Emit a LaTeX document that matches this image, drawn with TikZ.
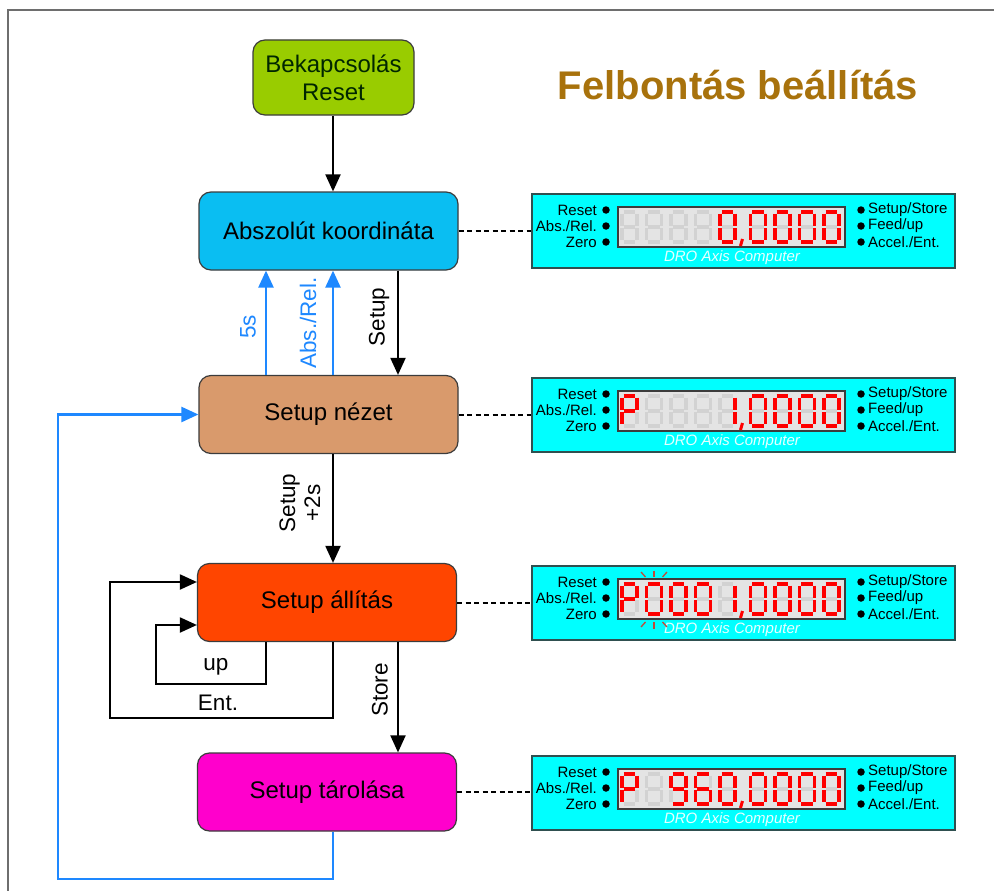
\documentclass[tikz,border=0pt]{standalone}
\usepackage{fontspec}
\setmainfont{Liberation Sans}
\usetikzlibrary{arrows.meta,calc}
\definecolor{cgreen}{HTML}{99CC00}
\definecolor{cblue}{HTML}{0ABEF2}
\definecolor{ctan}{HTML}{D99A6C}
\definecolor{cred}{HTML}{FF4500}
\definecolor{cmag}{HTML}{FF00CC}
\definecolor{cline}{HTML}{1E88FF}
\definecolor{ctitle}{HTML}{A8720C}
\definecolor{ccyan}{HTML}{00FFFF}
\definecolor{cpanel}{HTML}{E4E4E4}
\definecolor{csegoff}{HTML}{D2D2D2}
\definecolor{cframe}{HTML}{6E6E6E}
\definecolor{cborder}{HTML}{3C3C3C}
\definecolor{cdispb}{HTML}{2F5050}
\definecolor{cdro}{HTML}{E6FFFF}
\definecolor{cblink}{HTML}{C04A3A}
\expandafter\def\csname dsegs0\endcsname{a,b,c,d,e,f}
\expandafter\def\csname dsegs1\endcsname{b,c}
\expandafter\def\csname dsegs6\endcsname{a,c,d,e,f,g}
\expandafter\def\csname dsegs9\endcsname{a,b,c,d,f,g}
\expandafter\def\csname dsegsP\endcsname{a,b,e,f,g}
\newcommand\celldef{%
 \coordinate (sga1) at (3.6,2); \coordinate (sga2) at (15.4,2);
 \coordinate (sgb1) at (17,3.6); \coordinate (sgb2) at (17,15.6);
 \coordinate (sgc1) at (17,18.4); \coordinate (sgc2) at (17,30.4);
 \coordinate (sgd1) at (3.6,32); \coordinate (sgd2) at (15.4,32);
 \coordinate (sge1) at (2,18.4); \coordinate (sge2) at (2,30.4);
 \coordinate (sgf1) at (2,3.6); \coordinate (sgf2) at (2,15.6);
 \coordinate (sgg1) at (3.6,17); \coordinate (sgg2) at (15.4,17);
 \foreach \s in {a,b,c,d,e,f,g} {\draw[segoff] (sg\s1) -- (sg\s2);}}
\newcommand\gdig[2]{\begin{scope}[shift={(#1,#2)}]\celldef\end{scope}}
\newcommand\dig[3]{\begin{scope}[shift={(#1,#2)}]\celldef
  \edef\seglist{\csname dsegs#3\endcsname}%
  \foreach \s in \seglist {\draw[segon] (sg\s1) -- (sg\s2);}\end{scope}}
\newcommand\dcomma[1]{\draw[segon,line width=3pt] (742.5,#1+45) -- (740.5,#1+52);}
\newcommand\display[2]{%
 \node[disp] (disp#1) at (743.5,#2+37) {};
 \node[panel] (panel#1) at (731.5,#2+33) {};
 \node[lbll] (rs#1) at (597,#2+16) {Reset};
 \node[lbll] (ar#1) at (597,#2+32) {Abs./Rel.};
 \node[lbll] (ze#1) at (597,#2+48) {Zero};
 \node[ledot] (la#1) at (606,#2+16) {};
 \node[ledot] (lb#1) at (606,#2+32) {};
 \node[ledot] (lc#1) at (606,#2+48) {};
 \node[ledot] (ra#1) at (861,#2+16) {};
 \node[ledot] (rb#1) at (861,#2+32) {};
 \node[ledot] (rc#1) at (861,#2+48) {};
 \node[lblr] (ss#1) at (868,#2+16) {Setup/Store};
 \node[lblr] (fu#1) at (868,#2+32) {Feed/up};
 \node[lblr] (ae#1) at (868,#2+48) {Accel./Ent.};
 \node[dro] (dro#1) at (732,#2+64) {DRO Axis Computer};
}
\begin{document}
\begin{tikzpicture}[x=1pt,y=-1pt,
  box/.style={draw=cborder, line width=1.2pt, rounded corners=12pt, minimum width=259pt, minimum height=78pt, font=\fontsize{24}{28}\selectfont, align=center, inner sep=0pt},
  arr/.style={line width=2pt, -{Triangle[length=17pt,width=15pt]}},
  barr/.style={arr, cline, line width=2.4pt},
  dsh/.style={line width=2pt, dash pattern=on 5pt off 3.5pt},
  albl/.style={font=\fontsize{22.5}{25}\selectfont, inner sep=0pt, align=center},
  disp/.style={draw=cdispb, fill=ccyan, line width=1.3pt, minimum width=423pt, minimum height=74pt, inner sep=0pt},
  panel/.style={draw=cborder, fill=cpanel, line width=1.1pt, minimum width=227pt, minimum height=40pt, inner sep=0pt},
  lbll/.style={anchor=east, inner sep=0pt, font=\fontsize{15}{16}\selectfont},
  lblr/.style={anchor=west, inner sep=0pt, font=\fontsize{15}{16}\selectfont},
  ledot/.style={circle, fill=black, minimum size=7.5pt, inner sep=0pt},
  dro/.style={inner sep=0pt, text=cdro, font=\itshape\fontsize{15}{16}\selectfont},
  segoff/.style={csegoff, line width=3.8pt},
  segon/.style={red, line width=3.8pt},
  blink/.style={cblink, line width=1.3pt}]
\useasboundingbox (0,0) rectangle (994,891);
\fill[white] (0,0) rectangle (994,891);
\draw[cframe, line width=2pt] (8,891) -- (8,10) -- (994,10);
% title
\node[font=\bfseries\fontsize{40}{44}\selectfont, text=ctitle] (title) at (738,85) {Felbontás beállítás};
% boxes
\node[box, fill=cgreen, minimum width=161pt, minimum height=75pt, text=black!85!green] (bek) at (333.5,77.5) {Bekapcsolás\\Reset};
\node[box, fill=cblue] (abs) at (328.5,231) {Abszolút koordináta};
\node[box, fill=ctan] (nez) at (328.5,414.5) {Setup nézet};
\node[box, fill=cred] (all) at (327,602.5) {Setup állítás};
\node[box, fill=cmag] (tar) at (327,792) {Setup tárolása};
% helper coordinates
\coordinate (xA) at (266,0);
\coordinate (xB) at (333,0);
\coordinate (xC) at (398,0);
\coordinate (xL1) at (110,0);
\coordinate (xL2) at (156,0);
\coordinate (xL3) at (58,0);
\coordinate (yE) at (0,718);
\coordinate (yU) at (0,684);
\coordinate (yEin) at (0,582);
\coordinate (yUin) at (0,625);
\coordinate (yB) at (0,879);
% connectors
\draw[arr] (bek.south -| xB) -- (abs.north -| xB);
\draw[arr] (abs.south -| xC) -- (nez.north -| xC);
\draw[barr] (nez.north -| xA) -- (abs.south -| xA);
\draw[barr] (nez.north -| xB) -- (abs.south -| xB);
\draw[arr] (nez.south -| xB) -- (all.north -| xB);
\draw[arr] (all.south -| xC) -- (tar.north -| xC);
\draw[arr] (all.south -| xB) -- (xB |- yE) -- (xL1 |- yE) -- (xL1 |- yEin) -- (all.west |- yEin);
\draw[arr] (all.south -| xA) -- (xA |- yU) -- (xL2 |- yU) -- (xL2 |- yUin) -- (all.west |- yUin);
\draw[barr] (tar.south -| xB) -- (xB |- yB) -- (xL3 |- yB) -- (xL3 |- nez.west) -- (nez.west);
% labels
\node[albl, text=cline, rotate=90] (l5s) at (248,327) {5s};
\node[albl, text=cline, rotate=90] (lar) at (308,323) {Abs./Rel.};
\node[albl, rotate=90] (lsetup) at (379,317) {Setup};
\node[albl, rotate=90] (l2s) at (300,503) {Setup\\+2s};
\node[albl, rotate=90] (lstore) at (380,690) {Store};
\node[albl] (lup) at (216,667) {up};
\node[albl] (lent) at (218,703) {Ent.};
% displays
\display{1}{194}
\display{2}{378}
\display{3}{566}
\display{4}{756}
\draw[dsh] (abs.east) -- (abs.east -| disp1.west);
\draw[dsh] (nez.east) -- (nez.east -| disp2.west);
\draw[dsh] (all.east) -- (all.east -| disp3.west);
\draw[dsh] (tar.east) -- (tar.east -| disp4.west);
% display 1 digits: 8888 0,0000
\gdig{620}{210}\gdig{644.5}{210}\gdig{669}{210}\gdig{693.5}{210}
\dig{718}{210}{0}\dcomma{194}
\dig{748.5}{210}{0}\dig{773}{210}{0}\dig{797.5}{210}{0}\dig{822}{210}{0}
% display 2: P888 1,0000
\dig{620}{394}{P}\gdig{644.5}{394}\gdig{669}{394}\gdig{693.5}{394}
\dig{718}{394}{1}\dcomma{378}
\dig{748.5}{394}{0}\dig{773}{394}{0}\dig{797.5}{394}{0}\dig{822}{394}{0}
% display 3: P0001,0000
\dig{620}{582}{P}\dig{644.5}{582}{0}\dig{669}{582}{0}\dig{693.5}{582}{0}
\dig{718}{582}{1}\dcomma{566}
\dig{748.5}{582}{0}\dig{773}{582}{0}\dig{797.5}{582}{0}\dig{822}{582}{0}
\draw[blink] (641,572) -- (645.5,577);
\draw[blink] (654,570.5) -- (654,577);
\draw[blink] (667,572) -- (662.5,577);
\draw[blink] (645.5,622) -- (641,627);
\draw[blink] (654,622) -- (654,628.5);
\draw[blink] (662.5,622) -- (667,627);
% display 4: P8960,0000
\dig{620}{772}{P}\gdig{644.5}{772}\dig{669}{772}{9}\dig{693.5}{772}{6}
\dig{718}{772}{0}\dcomma{756}
\dig{748.5}{772}{0}\dig{773}{772}{0}\dig{797.5}{772}{0}\dig{822}{772}{0}
\end{tikzpicture}
\end{document}
